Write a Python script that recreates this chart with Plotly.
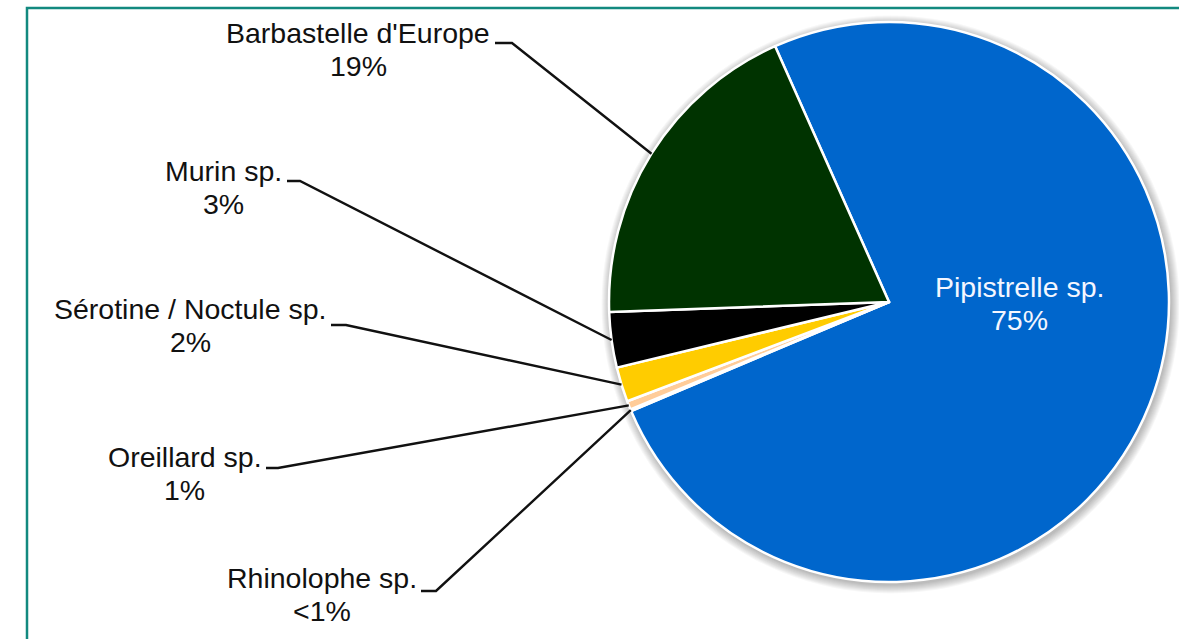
import math
import plotly.graph_objects as go

# Bat species share of recorded contacts
species = ["Pipistrelle sp.", "Rhinolophe sp.", "Oreillard sp.",
           "Sérotine / Noctule sp.", "Murin sp.", "Barbastelle d'Europe"]
values = [75.3, 0.1, 0.5, 2.0, 3.2, 18.9]
pct_labels = ["75%", "<1%", "1%", "2%", "3%", "19%"]
colors = ["#0066CC", "#993366", "#FFCC99", "#FFCC00", "#000000", "#003300"]

W, H = 1179, 639
CX, CY, R = 889, 302, 280          # pie centre and radius in pixels
ROTATION = -24.0                   # start angle of the first slice (deg, clockwise from 12 o'clock)

# Label placement (pixels): name centre x, name centre y, leader start x, elbow x, elbow y
label_pos = {
    "Barbastelle d'Europe":   (358, 33, 495, 512, 43),
    "Murin sp.":              (223, 171, 287, 300, 181),
    "Sérotine / Noctule sp.": (190, 309, 331, 346, 325),
    "Oreillard sp.":          (185, 457, 266, 278, 468),
    "Rhinolophe sp.":         (322, 578, 421, 436, 591),
}
inside_pos = {"Pipistrelle sp.": (1019, 287)}
LINE_GAP = 33


def px(x, y):
    return x / W, 1 - y / H


fig = go.Figure(go.Pie(
    labels=species,
    values=values,
    sort=False,
    direction="clockwise",
    rotation=ROTATION,
    marker=dict(colors=colors, line=dict(color="white", width=2.5)),
    textinfo="none",
    hoverinfo="label+percent",
    showlegend=False,
    domain=dict(x=[(CX - R) / W, (CX + R) / W],
                y=[1 - (CY + R) / H, 1 - (CY - R) / H]),
))

shapes = []
# soft drop shadow around the pie
for k in range(1, 10):
    rr = R + k
    ox, oy = CX + 1.5, CY + 2.5
    x0, y0 = px(ox - rr, oy + rr)
    x1, y1 = px(ox + rr, oy - rr)
    shapes.append(dict(type="circle", xref="paper", yref="paper", layer="below",
                       x0=x0, y0=y0, x1=x1, y1=y1,
                       fillcolor="rgba(0,0,0,0.03)", line=dict(width=0)))

# frame
fx0, fy1 = px(27, 8)
shapes.append(dict(type="rect", xref="paper", yref="paper", layer="below",
                   x0=fx0, y0=-0.05, x1=1.05, y1=fy1,
                   line=dict(color="#12897f", width=2.5), fillcolor="rgba(0,0,0,0)"))

annotations = []
font = dict(family="Liberation Sans, Arial, sans-serif", size=28.5, color="#111111")

total = sum(values)
cum = 0.0
for name, v, pct in zip(species, values, pct_labels):
    mid = math.radians(ROTATION + (cum + v / 2) / total * 360)
    cum += v
    if name in label_pos:
        tx, ty, sx, ex, ey = label_pos[name]
        # leader line: short horizontal, then to the slice edge
        edge_x = CX + R * math.sin(mid)
        edge_y = CY - R * math.cos(mid)
        p0, p1, p2 = px(sx, ey), px(ex, ey), px(edge_x, edge_y)
        shapes.append(dict(type="path", xref="paper", yref="paper",
                           path=f"M {p0[0]} {p0[1]} L {p1[0]} {p1[1]} L {p2[0]} {p2[1]}",
                           line=dict(color="#111111", width=2.4)))
        for txt, yy in ((name, ty), (pct, ty + LINE_GAP)):
            ax, ay = px(tx, yy)
            annotations.append(dict(text=txt, x=ax, y=ay, xref="paper", yref="paper",
                                    xanchor="center", yanchor="middle", showarrow=False,
                                    font=font))
    elif name in inside_pos:
        tx, ty = inside_pos[name]
        for txt, yy in ((name, ty), (pct, ty + LINE_GAP)):
            ax, ay = px(tx, yy)
            annotations.append(dict(text=txt, x=ax, y=ay, xref="paper", yref="paper",
                                    xanchor="center", yanchor="middle", showarrow=False,
                                    font=dict(font, color="#F4F6FF")))

fig.update_layout(
    width=W, height=H,
    margin=dict(l=0, r=0, t=0, b=0, pad=0),
    paper_bgcolor="white",
    plot_bgcolor="white",
    shapes=shapes,
    annotations=annotations,
)

fig.write_html("out.html")
